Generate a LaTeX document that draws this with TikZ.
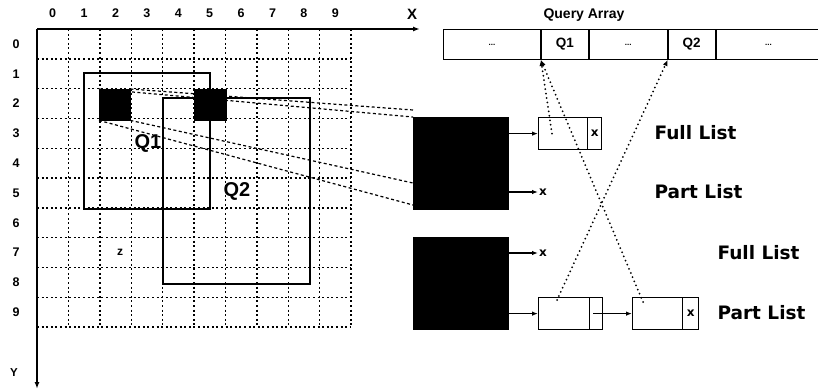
\documentclass[tikz,border=0pt]{standalone}
\usepackage{fontspec}
\setmainfont{Liberation Sans}
\newfontfamily\dvs{DejaVu Sans}
\usetikzlibrary{arrows.meta}
\begin{document}
\begin{tikzpicture}[x=1pt,y=-1pt,
  gridline/.style={line width=1.4pt, dash pattern=on 2pt off 2.6pt},
  qrect/.style={line width=1.6pt},
  proj/.style={line width=1.2pt, dash pattern=on 3pt off 2.5pt},
  ptr/.style={line width=2pt, line cap=round, dash pattern=on 0pt off 4.5pt, -{Latex[length=6pt,width=5pt]}},
  arr/.style={line width=1.2pt, -{Latex[length=6pt,width=4.5pt]}},
  axis/.style={line width=1.4pt, -{Latex[length=7pt,width=5pt]}},
  blk/.style={fill=black, draw=black, inner sep=0pt, anchor=north west},
  lnode/.style={draw, line width=1.2pt, inner sep=0pt, minimum height=32pt, anchor=north west},
  cell/.style={draw, line width=0.9pt, inner sep=0pt, minimum height=30pt, font=\bfseries\fontsize{13.5}{13.5}\selectfont},
  axlab/.style={font=\bfseries\fontsize{12.5}{12.5}\selectfont},
  listlab/.style={font=\dvs\bfseries\fontsize{18.5}{18.5}\selectfont, anchor=west},
  xlab/.style={font=\dvs\bfseries\fontsize{12}{12}\selectfont, inner sep=1pt},
  qlab/.style={font=\bfseries\fontsize{20}{20}\selectfont},
]
\useasboundingbox (0,0) rectangle (818,389);

% grid
\foreach \i in {1,...,10}
  \draw[gridline] ({37+31.4*\i},29) -- ({37+31.4*\i},327);
\foreach \j in {1,...,10}
  \draw[gridline] (37,{29+29.8*\j}) -- (351,{29+29.8*\j});

% axes
\coordinate (O) at (37,29);
\coordinate (xend) at (420,29);
\coordinate (yend) at (37,389);
\draw[axis] (O) -- (xend);
\draw[axis] (O) -- (yend);
\foreach \i in {0,...,9}
  \node[axlab] (cx\i) at ({37+31.4*(\i+0.5)},13) {\i};
\foreach \j in {0,...,9}
  \node[axlab] (ry\j) at (16,{29+29.8*(\j+0.5)}) {\j};
\node[font=\bfseries\fontsize{15}{15}\selectfont] (xl) at (412,14) {X};
\node[font=\bfseries\fontsize{11.5}{11.5}\selectfont] (yl) at (14,373) {Y};

% query rectangles
\draw[qrect] (84,73) rectangle (210,209);
\draw[qrect] (163,98) rectangle (310,284);
\node[qlab] (q1l) at (148,143) {Q1};
\node[qlab] (q2l) at (237,191) {Q2};
\node[font=\bfseries\fontsize{12}{12}\selectfont] (zl) at (120,252) {z};

% black cells
\node[blk, minimum width=31pt, minimum height=31pt] (sq1) at (99,89) {};
\node[blk, minimum width=32pt, minimum height=31pt] (sq2) at (194,89) {};

% big boxes
\node[blk, minimum width=95pt, minimum height=92pt] (box1) at (413,117) {};
\node[blk, minimum width=95pt, minimum height=92pt] (box2) at (413,237) {};

% projection lines
\draw[proj] (sq1.north east) -- ([yshift=7pt]box1.north west);
\draw[proj] (sq1.north west) -- (box1.north west);
\draw[proj] (sq1.south east) -- ([yshift=-66pt]box1.north west);
\draw[proj] (sq1.south west) -- ([yshift=-88pt]box1.north west);

% query array
\node[font=\bfseries\fontsize{14}{14}\selectfont] (qa) at (584,15) {Query Array};
\node[cell, minimum width=97pt, anchor=north west] (a1) at (443,29) {\fontsize{8}{8}\selectfont ...};
\node[cell, minimum width=47pt, anchor=west] (a2) at (a1.east) {Q1};
\node[cell, minimum width=78pt, anchor=west] (a3) at (a2.east) {\fontsize{8}{8}\selectfont ...};
\node[cell, minimum width=47pt, anchor=west] (a4) at (a3.east) {Q2};
\node[cell, minimum width=105pt, anchor=west] (a5) at (a4.east) {\fontsize{8}{8}\selectfont ...};
\draw[line width=2.2pt] (a2.north west) -- (a2.south west);
\draw[line width=2.2pt] (a4.north west) -- (a4.south west);

% list nodes
\node[lnode, minimum width=63pt] (n1) at (538,117) {};
\draw[line width=1.2pt] ([xshift=-15pt]n1.north east) -- ([xshift=-15pt]n1.south east);
\node[xlab] (n1x) at ([xshift=-7.5pt]n1.east) {x};
\node[lnode, minimum width=64pt] (n2) at (538,297) {};
\draw[line width=1.2pt] ([xshift=-14pt]n2.north east) -- ([xshift=-14pt]n2.south east);
\node[lnode, minimum width=66pt] (n3) at (632,297) {};
\draw[line width=1.2pt] ([xshift=-17pt]n3.north east) -- ([xshift=-17pt]n3.south east);
\node[xlab] (n3x) at ([xshift=-8.5pt]n3.east) {x};

% arrows
\node[xlab, anchor=west] (xa) at (538,192) {x};
\node[xlab, anchor=west] (xb) at (538,253) {x};
\draw[arr] (box1.east |- n1.west) -- (n1.west);
\draw[arr] (box1.east |- xa.west) -- (xa.west);
\draw[arr] (box2.east |- xb.west) -- (xb.west);
\draw[arr] (box2.east |- n2.west) -- (n2.west);
\coordinate (n2p) at ([xshift=-10pt]n2.east);
\draw[arr] (n2p) -- (n3.west);

% pointers
\coordinate (p1) at ([xshift=14pt]n1.west);
\coordinate (p2) at ([xshift=19pt,yshift=-3pt]n2.north west);
\coordinate (p3) at ([xshift=11pt,yshift=-5pt]n3.north west);
\draw[ptr] (p1) -- (a2.south west);
\draw[ptr] (p3) -- (a2.south west);
\draw[ptr] (p2) -- (a4.south west);

% list labels
\node[listlab] (fl1) at (651,133) {Full List};
\node[listlab] (pl1) at (651,192) {Part List};
\node[listlab] (fl2) at (714,253) {Full List};
\node[listlab] (pl2) at (714,313) {Part List};
\end{tikzpicture}
\end{document}
